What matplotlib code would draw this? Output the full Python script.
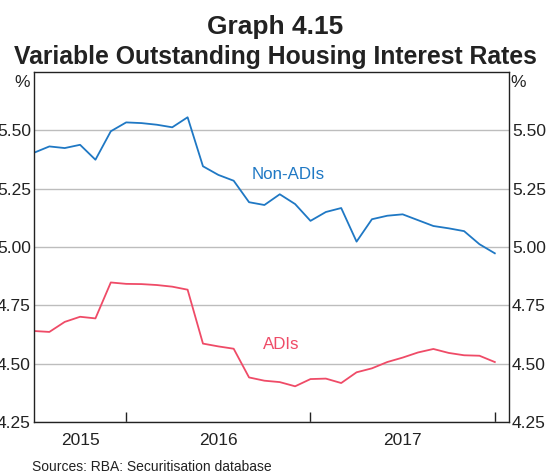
import matplotlib
matplotlib.use("Agg")
import matplotlib.pyplot as plt
import pandas as pd

plt.rcParams['font.family'] = ['Liberation Sans', 'DejaVu Sans']

# Month-end observations, June 2015 to December 2017
months = pd.date_range('2015-06-30', '2017-12-31', freq='ME')

non_adis = [5.404, 5.431, 5.424, 5.438, 5.374, 5.496, 5.534, 5.531, 5.524, 5.513,
            5.556, 5.346, 5.309, 5.284, 5.192, 5.180, 5.226, 5.184, 5.112, 5.150,
            5.167, 5.023, 5.119, 5.134, 5.140, 5.115, 5.090, 5.080, 5.068, 5.012,
            4.973]
adis = [4.640, 4.636, 4.679, 4.701, 4.694, 4.848, 4.842, 4.841, 4.837, 4.830,
        4.817, 4.586, 4.574, 4.564, 4.441, 4.427, 4.421, 4.403, 4.434, 4.436,
        4.417, 4.463, 4.480, 4.507, 4.526, 4.548, 4.563, 4.546, 4.536, 4.534,
        4.507]

y_ticks = [4.25, 4.50, 4.75, 5.00, 5.25, 5.50]
y_tick_labels = ['4.25', '4.50', '4.75', '5.00', '5.25', '5.50']
year_labels = ['2015', '2016', '2017']
year_label_pos = [2015.75, 2016.5, 2017.5]
year_bounds = [2016.0, 2017.0, 2018.0]

BLUE = '#1f78c4'
RED = '#ef4b67'
TXT = '#222222'

x = [d.year + d.month / 12.0 for d in months]

W, H = 550, 473
fig = plt.figure(figsize=(W / 100, H / 100), dpi=100)
ax = fig.add_axes([34 / W, 1 - 422 / H, (509 - 34) / W, (422 - 72) / H])

ax.plot(x, non_adis, color=BLUE, lw=1.3)
ax.plot(x, adis, color=RED, lw=1.3)

ax.set_xlim(2015.5, 2018.077)
ax.set_ylim(4.25, 5.75)

ax.set_yticks(y_ticks)
ax.set_yticklabels(y_tick_labels)
ax.tick_params(axis='y', left=False, right=False, length=0, labelleft=True,
               labelright=True, labelsize=12.5, pad=2.2, labelcolor=TXT)
ax.grid(axis='y', color='#bdbdbd', lw=1)
ax.set_axisbelow(True)

ax.set_xticks(year_bounds)
ax.set_xticklabels([])
ax.tick_params(axis='x', which='major', direction='in', length=7, width=1, color=TXT)
ax.set_xticks(year_label_pos, minor=True)
ax.set_xticklabels(year_labels, minor=True)
ax.tick_params(axis='x', which='minor', length=0, labelsize=12.5, pad=8, labelcolor=TXT)

for s in ax.spines.values():
    s.set_color(TXT)
    s.set_linewidth(1)

ax.text(2016.88, 5.31, 'Non-ADIs', color=BLUE, fontsize=12.2, ha='center', va='center')
ax.text(2016.84, 4.582, 'ADIs', color=RED, fontsize=12.2, ha='center', va='center')

fig.text(0.5, 1 - 34 / H, 'Graph 4.15', fontsize=19, fontweight='bold', ha='center',
         va='baseline', color=TXT)
fig.text(0.5, 1 - 64 / H, 'Variable Outstanding Housing Interest Rates', fontsize=17.8,
         fontweight='bold', ha='center', va='baseline', color=TXT)
fig.text(22 / W, 1 - 87 / H, '%', fontsize=12.5, ha='center', va='baseline', color=TXT)
fig.text(518 / W, 1 - 87 / H, '%', fontsize=12.5, ha='center', va='baseline', color=TXT)
fig.text(32 / W, 1 - 471 / H, 'Sources: RBA: Securitisation database', fontsize=10,
         ha='left', va='baseline', color=TXT)

fig.savefig('out.png', dpi=100)
